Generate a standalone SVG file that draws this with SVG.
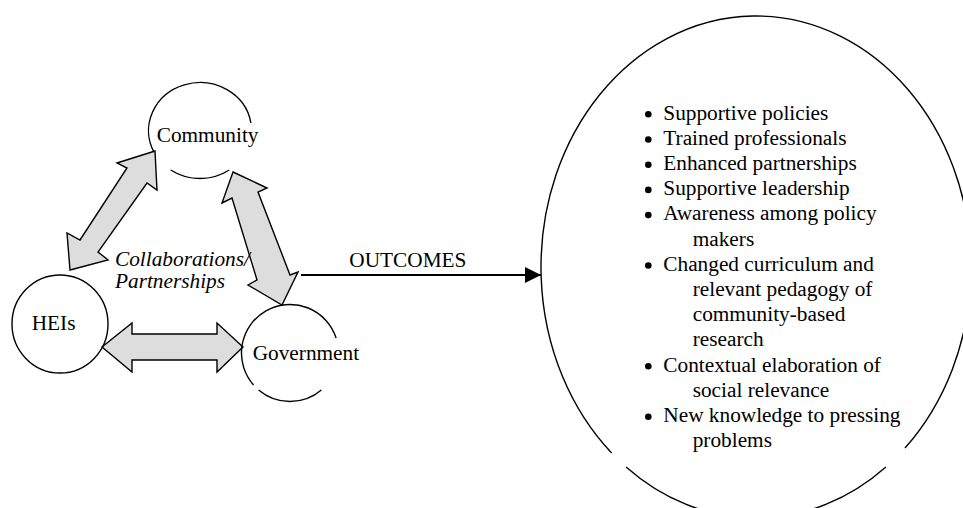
<svg xmlns="http://www.w3.org/2000/svg" width="963" height="508" viewBox="0 0 963 508">
<style>
  text { font-family: "Liberation Serif", "Times New Roman", serif; font-size: 21.3px; fill: #000; }
  .it { font-style: italic; }
  .node { fill: none; stroke: #000; stroke-width: 1.4; }
  .dbl { fill: #dddddd; stroke: #000; stroke-width: 1.4; stroke-linejoin: miter; }
  .bul { fill: #000; }
</style>
<defs>
  <marker id="ah" markerWidth="16" markerHeight="16" refX="16" refY="8" orient="auto" markerUnits="userSpaceOnUse">
    <path d="M0,0 L16,8 L0,16 Z" fill="#000"/>
  </marker>
</defs>
<rect width="963" height="508" fill="#fff"/>

<g id="connectors">
  <polygon class="dbl" points="155,151 157,190 147,183 98,252 108,260 70,270 67,233 80,240 127,168 117,163"/>
  <polygon class="dbl" points="233,172 267,188 258,192 290,275 298,272 282,305 248,285 257,280 232,198 222,203"/>
  <polygon class="dbl" points="102,347 132,323 132,334 217,334 217,323 243,347 217,372 217,360 132,360 132,372"/>
  <line x1="301" y1="275" x2="541" y2="275" stroke="#000" stroke-width="2" marker-end="url(#ah)"/>
</g>

<g id="community">
  <path class="node" d="M153.95,152 A51.5,48 0 1 1 250.9,123"/>
  <path class="node" d="M170.7,170 A51.5,48 0 0 0 229.3,170"/>
  <text x="156.7" y="142">Community</text>
</g>

<g id="heis">
  <ellipse class="node" cx="60" cy="324" rx="48" ry="49"/>
  <text x="31.7" y="330">HEIs</text>
</g>

<g id="government">
  <path class="node" d="M253.55,385 A48.5,48.5 0 1 1 336.1,338"/>
  <path class="node" d="M258.6,390 A48.5,48.5 0 0 0 321.4,390"/>
  <text x="252.7" y="360">Government</text>
</g>

<g id="collab-label">
  <text class="it" x="115" y="266">Collaborations/</text>
  <text class="it" x="115" y="288">Partnerships</text>
</g>

<g id="outcomes-label">
  <text x="349.3" y="266.5">OUTCOMES</text>
</g>

<g id="outcomes">
  <path class="node" d="M611.63,453 A215,251 0 1 1 904.96,448"/>
  <path class="node" d="M626.09,467 A215,251 0 0 0 885.91,467"/>
  <circle class="bul" cx="648.3" cy="114.3" r="3.3"/>
  <circle class="bul" cx="648.3" cy="139.5" r="3.3"/>
  <circle class="bul" cx="648.3" cy="164.7" r="3.3"/>
  <circle class="bul" cx="648.3" cy="189.9" r="3.3"/>
  <circle class="bul" cx="648.3" cy="215.1" r="3.3"/>
  <circle class="bul" cx="648.3" cy="265.5" r="3.3"/>
  <circle class="bul" cx="648.3" cy="366.3" r="3.3"/>
  <circle class="bul" cx="648.3" cy="416.7" r="3.3"/>
  <text x="663.3" y="119.5">Supportive policies</text>
  <text x="663.3" y="144.7">Trained professionals</text>
  <text x="663.3" y="169.9">Enhanced partnerships</text>
  <text x="663.3" y="195.1">Supportive leadership</text>
  <text x="663.3" y="220.3">Awareness among policy</text>
  <text x="692.7" y="245.5">makers</text>
  <text x="663.3" y="270.7">Changed curriculum and</text>
  <text x="692.7" y="295.9">relevant pedagogy of</text>
  <text x="692.7" y="321.1">community-based</text>
  <text x="692.7" y="346.3">research</text>
  <text x="663.3" y="371.5">Contextual elaboration of</text>
  <text x="692.7" y="396.7">social relevance</text>
  <text x="663.3" y="421.9">New knowledge to pressing</text>
  <text x="692.7" y="447.1">problems</text>
</g>
</svg>
